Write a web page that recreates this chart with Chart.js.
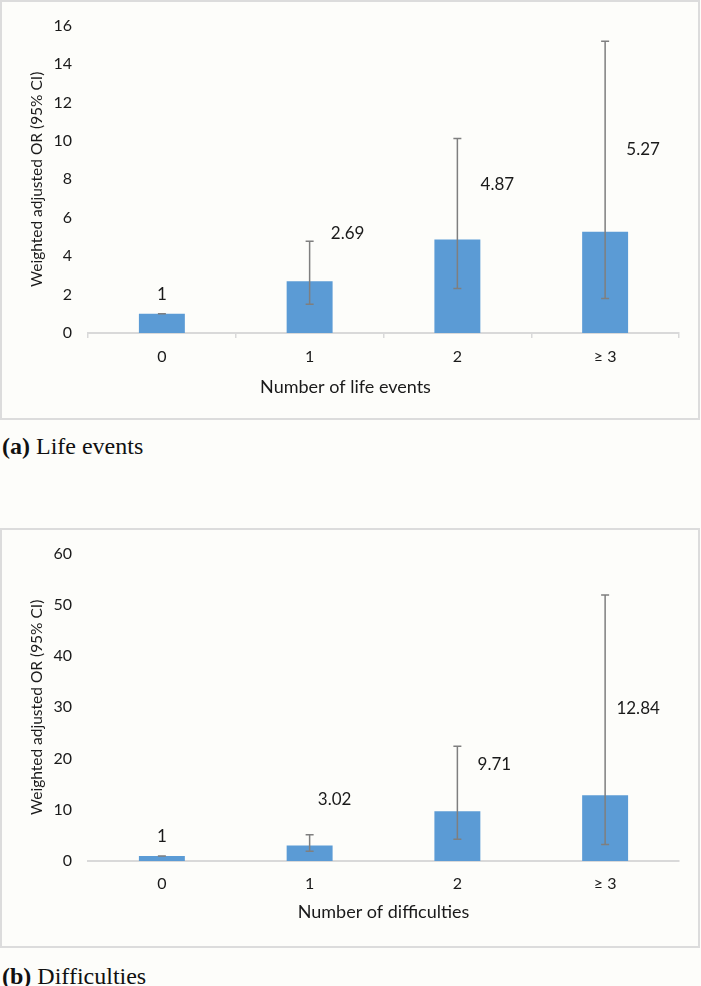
<!DOCTYPE html>
<html>
<head>
<meta charset="utf-8">
<script src="https://cdn.jsdelivr.net/npm/chart.js@4"></script>
<style>
  body { margin: 0; background: #fdfdfa; width: 701px; height: 986px; position: relative; overflow: hidden; }
  .panel { position: absolute; left: 0; width: 701px; height: 420px; }
  .panel canvas { position: absolute; left: 0; top: 0; }
  .frame { position: absolute; left: 0; top: 0; width: 700px; height: 420px; border: 2px solid #dcdcdc; box-sizing: border-box; pointer-events: none; }
  .caption { position: absolute; left: 2px; font-family: "Liberation Serif", "Times New Roman", serif; font-size: 24px; color: #111; white-space: nowrap; }
</style>
</head>
<body>
<div class="panel" style="top:0">
  <canvas id="lifeChart" width="701" height="420"></canvas>
  <div class="frame"></div>
</div>
<div class="caption" style="top:433px"><b>(a)</b> Life events</div>

<div class="panel" style="top:528px">
  <canvas id="diffChart" width="701" height="420"></canvas>
  <div class="frame"></div>
</div>
<div class="caption" style="top:963px"><b>(b)</b> Difficulties</div>

<script>
// categories and values
const categories = ['0', '1', '2', '\u2265 3'];

const lifeOR = [1, 2.69, 4.87, 5.27];
const lifeLower = [1, 1.49, 2.31, 1.80];
const lifeUpper = [1, 4.78, 10.13, 15.19];

const diffOR = [1, 3.02, 9.71, 12.84];
const diffLower = [1, 1.92, 4.23, 3.2];
const diffUpper = [1, 5.13, 22.4, 51.9];

const BAR_BLUE = '#5b9bd5';
const AXIS_GREY = '#d9d9d9';
const TEXT = '#1a1a1a';
const FONT = 'Lato, "Open Sans", sans-serif';

// whiskers drawn from the y scale
const errorBars = {
    id: 'errorBars',
    afterDatasetsDraw(chart, args, opts) {
        const { ctx } = chart;
        const yScale = chart.scales.y;
        const meta = chart.getDatasetMeta(0);
        ctx.save();
        ctx.strokeStyle = opts.color;
        ctx.lineWidth = opts.width;
        meta.data.forEach((bar, i) => {
            const lo = yScale.getPixelForValue(opts.lower[i]);
            const hi = yScale.getPixelForValue(opts.upper[i]);
            const cap = opts.cap;
            ctx.beginPath();
            ctx.moveTo(bar.x, lo);
            ctx.lineTo(bar.x, hi);
            ctx.moveTo(bar.x - cap, hi);
            ctx.lineTo(bar.x + cap, hi);
            ctx.moveTo(bar.x - cap, lo);
            ctx.lineTo(bar.x + cap, lo);
            ctx.stroke();
        });
        ctx.restore();
    }
};

// value labels, nudged like the hand-placed Excel labels
const valueLabels = {
    id: 'valueLabels',
    afterDatasetsDraw(chart, args, opts) {
        const { ctx } = chart;
        const meta = chart.getDatasetMeta(0);
        const values = chart.data.datasets[0].data;
        ctx.save();
        ctx.font = `17px ${FONT}`;
        ctx.fillStyle = TEXT;
        ctx.textAlign = 'center';
        ctx.textBaseline = 'middle';
        meta.data.forEach((bar, i) => {
            const [dx, dy] = opts.shift[i];
            ctx.fillText(String(values[i]), bar.x + dx, bar.y + dy);
        });
        ctx.restore();
    }
};

// x axis title, which Excel left off-centre in panel (a)
const xTitle = {
    id: 'xTitle',
    afterDraw(chart, args, opts) {
        const { ctx } = chart;
        const xScale = chart.scales.x;
        ctx.save();
        ctx.font = `18px ${FONT}`;
        ctx.fillStyle = TEXT;
        ctx.textAlign = 'center';
        ctx.textBaseline = 'middle';
        ctx.fillText(opts.text, (xScale.left + xScale.right) / 2 + opts.dx, xScale.top + opts.dy);
        ctx.restore();
    }
};

const buildChart = (id, values, lower, upper, yMax, yStep, titleText, showTicks, shift, titleDx, titleDy, topPad) => {
    const ctx = document.getElementById(id).getContext('2d');
    return new Chart(ctx, {
        type: 'bar',
        data: {
            labels: categories,
            datasets: [{
                data: values,
                backgroundColor: BAR_BLUE,
                borderWidth: 0,
                categoryPercentage: 1,
                barPercentage: 0.311
            }]
        },
        options: {
            responsive: false,
            animation: false,
            events: [],
            layout: { padding: { top: topPad, right: 22, left: 0, bottom: 0 } },
            plugins: {
                legend: { display: false },
                tooltip: { enabled: false },
                errorBars: { lower, upper, color: '#7f7f7f', width: 1.5, cap: 4 },
                valueLabels: { shift },
                xTitle: { text: titleText, dx: titleDx, dy: titleDy }
            },
            scales: {
                x: {
                    grid: {
                        display: true,
                        offset: true,
                        drawOnChartArea: false,
                        drawTicks: showTicks,
                        tickLength: 5,
                        color: AXIS_GREY,
                        lineWidth: 1.5
                    },
                    border: { display: true, color: AXIS_GREY, width: 2 },
                    ticks: { color: TEXT, font: { family: FONT, size: 16 }, padding: showTicks ? 9 : 13 },
                    afterFit: s => { s.height = 87; }
                },
                y: {
                    min: 0,
                    max: yMax,
                    grid: { display: false, drawTicks: false },
                    border: { display: false },
                    ticks: { stepSize: yStep, color: TEXT, font: { family: FONT, size: 16 }, padding: 16 },
                    title: { display: true, text: 'Weighted adjusted OR (95% CI)', color: TEXT, font: { family: FONT, size: 15.5 }, padding: { top: 28, bottom: 0 } },
                    afterFit: s => { s.width = 88; }
                }
            }
        },
        plugins: [errorBars, valueLabels, xTitle]
    });
};

document.addEventListener('DOMContentLoaded', () => {
    buildChart('lifeChart', lifeOR, lifeLower, lifeUpper, 16, 2, 'Number of life events', true,
        [[0, -19], [38, -48], [40, -55], [38, -82]], -38, 54, 22);
    buildChart('diffChart', diffOR, diffLower, diffUpper, 60, 10, 'Number of difficulties', false,
        [[0, -19], [25, -46], [37, -47], [33, -87]], 0, 51, 21);
});
</script>
</body>
</html>
